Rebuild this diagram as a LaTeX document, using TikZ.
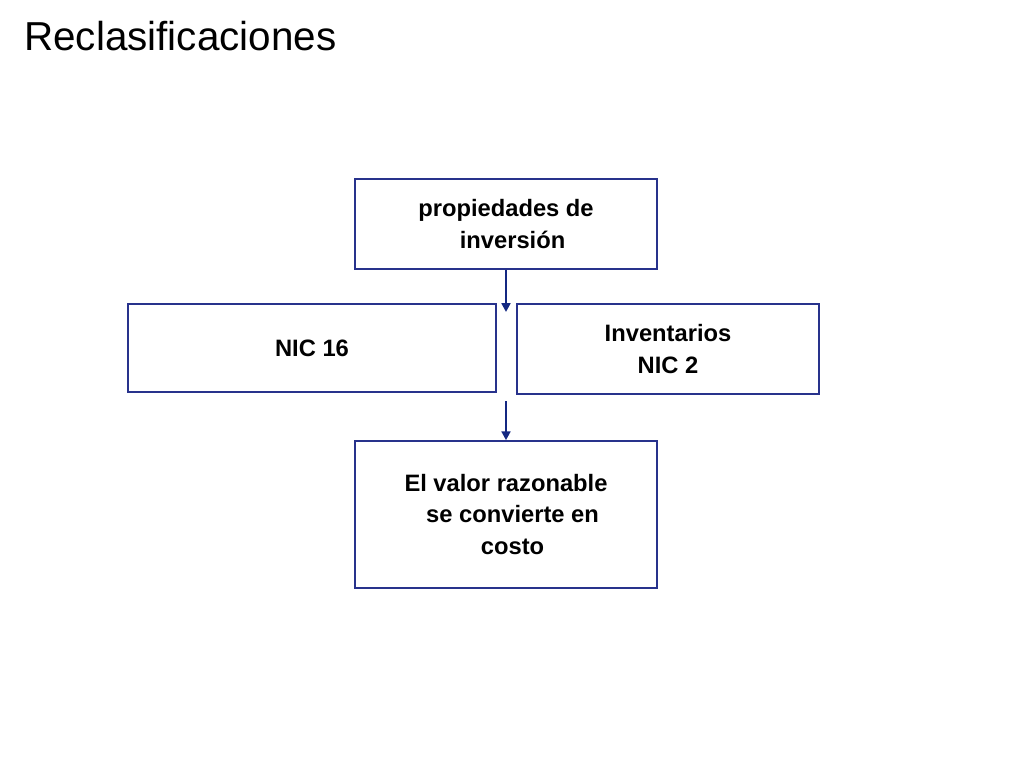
\documentclass[tikz,border=0pt]{standalone}
\usepackage{fontspec}
\setmainfont{Liberation Sans}
\usetikzlibrary{arrows.meta}
\definecolor{boxblue}{RGB}{40,50,140}
\definecolor{arrowblue}{RGB}{20,40,130}
\begin{document}
\begin{tikzpicture}[x=0.02cm,y=-0.02cm]
	\tikzstyle{box}=[draw=boxblue,line width=0.9pt,align=center,font=\fontsize{13.5}{18}\selectfont\bfseries]
	\tikzstyle{link}=[draw=arrowblue,line width=1.6pt,-{Triangle[length=5pt,width=5pt]}]
	\useasboundingbox (0,0) rectangle (1024,768);
	\node[anchor=west,font=\fontsize{23}{28}\selectfont] (T) at (18,36) {Reclasificaciones};
	\node[box,minimum width=302*0.02cm,minimum height=90*0.02cm] (P) at (506,224) {propiedades de\\ \ \ inversión};
	\node[box,minimum width=368*0.02cm,minimum height=88*0.02cm] (N16) at (312,348) {NIC 16};
	\node[box,minimum width=302*0.02cm,minimum height=90*0.02cm] (N2) at (668,349) {Inventarios\\NIC 2};
	\node[box,minimum width=302*0.02cm,minimum height=147*0.02cm] (V) at (506,514.5) {El valor razonable\\ \ \ se convierte en\\ \ \ costo};

	\coordinate (A1) at (506,312);
	\coordinate (A2) at (506,401);

	\draw[link] (P.south) -- (A1);
	\draw[link] (A2) -- (V.north);
\end{tikzpicture}
\end{document}
